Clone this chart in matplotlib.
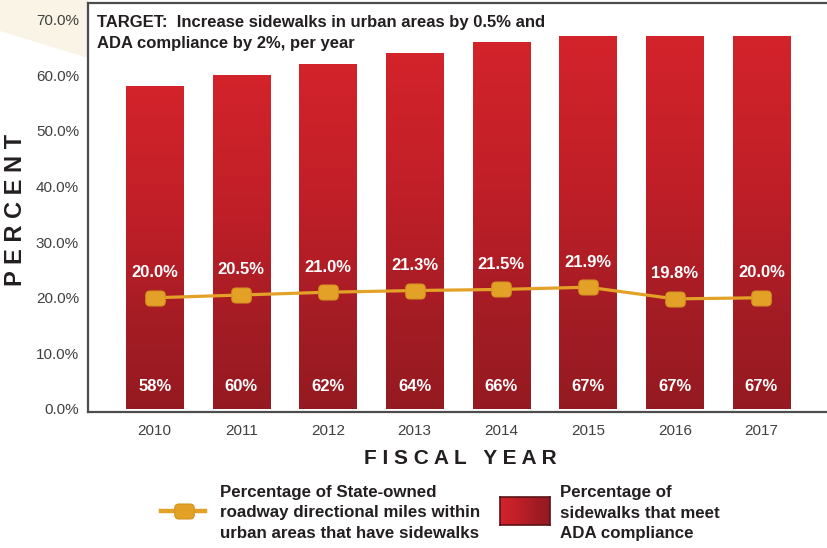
import matplotlib
matplotlib.use('Agg')
import matplotlib.pyplot as plt
import numpy as np
from matplotlib import font_manager
from matplotlib.colors import LinearSegmentedColormap
from matplotlib.patches import Polygon, FancyBboxPatch
from matplotlib.markers import MarkerStyle
from matplotlib.lines import Line2D

# data
years = ['2010', '2011', '2012', '2013', '2014', '2015', '2016', '2017']
ada_pct = [58, 60, 62, 64, 66, 67, 67, 67]
sidewalk_pct = [20.0, 20.5, 21.0, 21.3, 21.5, 21.9, 19.8, 20.0]
y_ticks = [0, 10, 20, 30, 40, 50, 60, 70]

title = "TARGET:  Increase sidewalks in urban areas by 0.5% and\nADA compliance by 2%, per year"
line_label = "Percentage of State-owned\nroadway directional miles within\nurban areas that have sidewalks"
bar_label = "Percentage of\nsidewalks that meet\nADA compliance"

names = {f.name for f in font_manager.fontManager.ttflist}
narrow = 'Liberation Sans Narrow' if 'Liberation Sans Narrow' in names else 'Liberation Sans'
plt.rcParams['font.family'] = ['Liberation Sans', 'DejaVu Sans']

W, H = 828, 548
def fx(px):
    return px / W
def fy(py):
    return 1 - py / H

red = LinearSegmentedColormap.from_list('red', ['#941a21', '#a31c24', '#c01f28', '#d3232b'])
gold = '#e3a227'

fig = plt.figure(figsize=(W / 100, H / 100), dpi=100)
fig.patches.append(Polygon([[0, 1], [fx(88), 1], [fx(88), fy(58)], [0, fy(31)]],
                           closed=True, transform=fig.transFigure, facecolor='#faf4e6',
                           edgecolor='none', zorder=-5))

ax = fig.add_axes([fx(88), fy(411.5), 1 - fx(88), fy(3) - fy(411.5)])
x = np.arange(len(years))

bars = ax.bar(x, ada_pct, width=0.66, color='none', edgecolor='none', zorder=1)
grad = (np.linspace(0, 1, 256) ** 0.8).reshape(-1, 1)
for b in bars:
    x0, w, h = b.get_x(), b.get_width(), b.get_height()
    im = ax.imshow(grad, extent=[x0, x0 + w, 0, h], aspect='auto', cmap=red,
                   origin='lower', zorder=1)
    im.set_clip_path(b)

# rounded square marker
box = FancyBboxPatch((-0.65, -0.5), 1.3, 1.0, boxstyle='round,pad=0,rounding_size=0.28')
mk = MarkerStyle(box.get_path())

ax.plot(x, sidewalk_pct, color=gold, lw=2.3, marker=mk, ms=14, mfc=gold, mec='#d39320',
        mew=0.8, zorder=3)

for xi, v in zip(x, sidewalk_pct):
    ax.annotate(f'{v:.1f}%', (xi, v), xytext=(0, 18), textcoords='offset points',
                ha='center', va='center', color='white', fontsize=12, fontweight='bold', zorder=4)
for xi, v in zip(x, ada_pct):
    ax.text(xi, 4.1, f'{v}%', ha='center', va='center', color='white', fontsize=12,
            fontweight='bold', zorder=4)

ax.set_xlim(-0.7695, 7.768)
ax.set_ylim(-0.45, 73.0)
ax.set_xticks(x)
ax.set_xticklabels(years)
ax.set_yticks(y_ticks)
ax.set_yticklabels([f'{t:.1f}%' for t in y_ticks])
ax.tick_params(axis='both', length=0, labelsize=11, labelcolor='#404040')
ax.tick_params(axis='y', pad=6.5)
ax.tick_params(axis='x', pad=9)
for s in ['left', 'bottom', 'top']:
    ax.spines[s].set_color('#4d4d4d')
    ax.spines[s].set_linewidth(1.6)
ax.spines['right'].set_visible(False)

fig.text(fx(97), fy(15), title, ha='left', va='top', fontsize=12, fontweight='bold',
         family=narrow, color='#231f20', linespacing=1.5)

fig.text(fx(16), fy(210), 'P E R C E N T', rotation=90, ha='center', va='center',
         fontsize=17, fontweight='bold', color='#231f20')
fig.text(fx(460), fy(459), 'F I S C A L   Y E A R', ha='center', va='center',
         fontsize=15, fontweight='bold', color='#231f20')

# legend
fig.add_artist(Line2D([fx(161), fx(205)], [fy(511), fy(511)], color=gold, lw=3.2))
fig.add_artist(Line2D([fx(184)], [fy(511)], marker=mk, ms=14, mfc=gold, mec='#d39320',
                      mew=0.8, lw=0))
fig.text(fx(220), fy(513), line_label, ha='left', va='center', fontsize=12.2, fontweight='bold',
         family=narrow, color='#231f20', linespacing=1.45)

lax = fig.add_axes([fx(500), fy(525), fx(550) - fx(500), fy(497) - fy(525)])
lax.imshow(np.linspace(1, 0, 128).reshape(1, -1) ** 0.9, aspect='auto', cmap=red)
lax.set_xticks([])
lax.set_yticks([])
for s in lax.spines.values():
    s.set_color('#5a1318')
    s.set_linewidth(1.2)
fig.text(fx(560), fy(513), bar_label, ha='left', va='center', fontsize=12.2, fontweight='bold',
         family=narrow, color='#231f20', linespacing=1.45)

fig.savefig('out.png', dpi=100)
